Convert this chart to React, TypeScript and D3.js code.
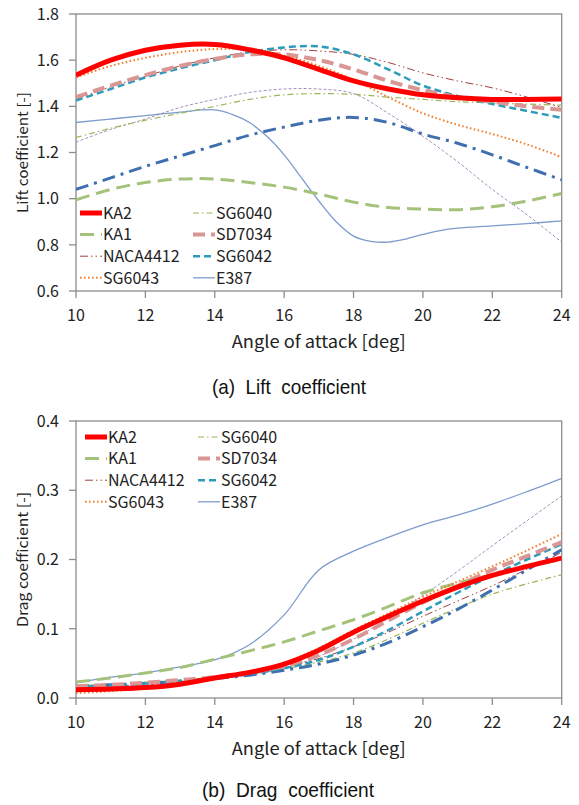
import React from "react";
import * as d3 from "d3";

// ---------- DATA ----------
const ANGLES = [10, 11, 12, 13, 14, 15, 16, 17, 18, 19, 20, 21, 22, 23, 24];
const E387_LIFT_ANGLES = [10, 11, 12, 13, 14, 14.5, 15, 15.5, 16, 16.5, 17, 17.5, 18, 18.5, 19, 19.5, 20, 20.5, 21, 22, 23, 24];

const X_TICKS = [10, 12, 14, 16, 18, 20, 22, 24];
const LIFT_TICKS = [0.6, 0.8, 1.0, 1.2, 1.4, 1.6, 1.8];
const DRAG_TICKS = [0.0, 0.1, 0.2, 0.3, 0.4];

// Lift coefficient
const LIFT_KA2 = [1.535, 1.6, 1.643, 1.665, 1.668, 1.645, 1.61, 1.56, 1.51, 1.475, 1.45, 1.437, 1.43, 1.43, 1.432];
const LIFT_KA1 = [0.995, 1.04, 1.07, 1.085, 1.085, 1.07, 1.05, 1.02, 0.985, 0.962, 0.955, 0.952, 0.965, 0.99, 1.022];
const LIFT_NACA4412 = [1.43, 1.485, 1.53, 1.575, 1.61, 1.635, 1.645, 1.64, 1.625, 1.59, 1.545, 1.51, 1.48, 1.44, 1.395];
const LIFT_SG6043 = [1.525, 1.575, 1.61, 1.635, 1.648, 1.645, 1.62, 1.575, 1.515, 1.44, 1.37, 1.32, 1.28, 1.235, 1.18];
const LIFT_SG6040 = [1.265, 1.305, 1.34, 1.37, 1.4, 1.43, 1.45, 1.455, 1.452, 1.44, 1.43, 1.42, 1.415, 1.41, 1.405];
const LIFT_SD7034 = [1.44, 1.49, 1.535, 1.575, 1.605, 1.625, 1.625, 1.6, 1.56, 1.51, 1.47, 1.44, 1.42, 1.4, 1.385];
const LIFT_SG6042 = [1.425, 1.475, 1.525, 1.565, 1.6, 1.635, 1.655, 1.66, 1.625, 1.56, 1.49, 1.445, 1.41, 1.38, 1.35];
const LIFT_E387 = [1.33, 1.345, 1.36, 1.375, 1.385, 1.365, 1.33, 1.27, 1.19, 1.09, 0.99, 0.9, 0.838, 0.815, 0.812, 0.825, 0.845, 0.862, 0.872, 0.882, 0.892, 0.904];
const LIFT_EXTRA_BLUE = [1.04, 1.09, 1.14, 1.185, 1.23, 1.275, 1.31, 1.34, 1.352, 1.33, 1.28, 1.24, 1.19, 1.135, 1.082];
const LIFT_EXTRA_PURPLE = [1.245, 1.3, 1.345, 1.395, 1.43, 1.46, 1.475, 1.475, 1.455, 1.37, 1.27, 1.16, 1.04, 0.93, 0.812];

// Drag coefficient
const DRAG_KA2 = [0.012, 0.013, 0.015, 0.02, 0.029, 0.037, 0.049, 0.069, 0.095, 0.118, 0.14, 0.16, 0.177, 0.19, 0.202];
const DRAG_KA1 = [0.023, 0.029, 0.036, 0.044, 0.056, 0.068, 0.081, 0.097, 0.113, 0.132, 0.152, 0.166, 0.178, 0.19, 0.2];
const DRAG_NACA4412 = [0.015, 0.017, 0.02, 0.024, 0.028, 0.035, 0.044, 0.057, 0.074, 0.095, 0.118, 0.14, 0.162, 0.186, 0.21];
const DRAG_SG6043 = [0.007, 0.01, 0.014, 0.02, 0.028, 0.037, 0.051, 0.072, 0.098, 0.122, 0.146, 0.168, 0.19, 0.213, 0.237];
const DRAG_SG6040 = [0.018, 0.02, 0.023, 0.026, 0.03, 0.035, 0.042, 0.052, 0.065, 0.085, 0.108, 0.13, 0.15, 0.165, 0.178];
const DRAG_SD7034 = [0.017, 0.019, 0.022, 0.026, 0.03, 0.037, 0.046, 0.062, 0.085, 0.112, 0.138, 0.162, 0.185, 0.205, 0.225];
const DRAG_SG6042 = [0.016, 0.018, 0.021, 0.025, 0.029, 0.035, 0.043, 0.055, 0.074, 0.098, 0.125, 0.152, 0.177, 0.2, 0.222];
const DRAG_E387 = [0.022, 0.03, 0.036, 0.045, 0.055, 0.077, 0.12, 0.185, 0.212, 0.232, 0.25, 0.264, 0.28, 0.298, 0.317];
const DRAG_EXTRA_BLUE = [0.017, 0.019, 0.021, 0.024, 0.028, 0.033, 0.04, 0.049, 0.062, 0.08, 0.103, 0.128, 0.156, 0.185, 0.214];
const DRAG_EXTRA_PURPLE = [0.015, 0.017, 0.019, 0.023, 0.027, 0.033, 0.043, 0.06, 0.085, 0.115, 0.148, 0.183, 0.22, 0.256, 0.292];

// ---------- STYLES ----------
type Style = { color: string; width: number; dash: string | null };
const STYLES: Record<string, Style> = {
  KA2: { color: "#ff0000", width: 5, dash: null },
  KA1: { color: "#a4c27a", width: 3, dash: "14,7" },
  NACA4412: { color: "#a0413e", width: 1, dash: "8,3,1.5,3,1.5,3" },
  SG6043: { color: "#f08030", width: 2, dash: "1.6,2.4" },
  SG6040: { color: "#9bb55a", width: 1.2, dash: "6,3,1.5,3" },
  SD7034: { color: "#d99694", width: 4, dash: "12,6" },
  SG6042: { color: "#2e9bbb", width: 2.5, dash: "7,4" },
  E387: { color: "#7d9bcc", width: 1.3, dash: null },
  EXTRA_BLUE: { color: "#3f6faf", width: 3, dash: "13,6,3,6" },
  EXTRA_PURPLE: { color: "#8a74a8", width: 0.8, dash: "3,2" },
};

const LEGEND_COL1 = ["KA2", "KA1", "NACA4412", "SG6043"];
const LEGEND_COL2 = ["SG6040", "SD7034", "SG6042", "E387"];

type Series = { key: string; xs: number[]; ys: number[] };

const LIFT_SERIES: Series[] = [
  { key: "E387", xs: E387_LIFT_ANGLES, ys: LIFT_E387 },
  { key: "EXTRA_PURPLE", xs: ANGLES, ys: LIFT_EXTRA_PURPLE },
  { key: "SG6040", xs: ANGLES, ys: LIFT_SG6040 },
  { key: "NACA4412", xs: ANGLES, ys: LIFT_NACA4412 },
  { key: "EXTRA_BLUE", xs: ANGLES, ys: LIFT_EXTRA_BLUE },
  { key: "KA1", xs: ANGLES, ys: LIFT_KA1 },
  { key: "SG6042", xs: ANGLES, ys: LIFT_SG6042 },
  { key: "SD7034", xs: ANGLES, ys: LIFT_SD7034 },
  { key: "SG6043", xs: ANGLES, ys: LIFT_SG6043 },
  { key: "KA2", xs: ANGLES, ys: LIFT_KA2 },
];

const DRAG_SERIES: Series[] = [
  { key: "E387", xs: ANGLES, ys: DRAG_E387 },
  { key: "EXTRA_PURPLE", xs: ANGLES, ys: DRAG_EXTRA_PURPLE },
  { key: "SG6040", xs: ANGLES, ys: DRAG_SG6040 },
  { key: "NACA4412", xs: ANGLES, ys: DRAG_NACA4412 },
  { key: "KA1", xs: ANGLES, ys: DRAG_KA1 },
  { key: "EXTRA_BLUE", xs: ANGLES, ys: DRAG_EXTRA_BLUE },
  { key: "SG6042", xs: ANGLES, ys: DRAG_SG6042 },
  { key: "SD7034", xs: ANGLES, ys: DRAG_SD7034 },
  { key: "SG6043", xs: ANGLES, ys: DRAG_SG6043 },
  { key: "KA2", xs: ANGLES, ys: DRAG_KA2 },
];

const FONT = "'Noto Sans CJK KR', 'Noto Sans', sans-serif";
const AXIS_COLOR = "#8c8c8c";

type PanelProps = {
  top: number;
  bottom: number;
  yDomain: [number, number];
  yTicks: number[];
  series: Series[];
  yLabel: string;
  yLabelLen: number;
  yLabelCenter: number;
  legendTop: number;
  legendX1: number;
  legendX2: number;
  caption: string;
  captionX: number;
  captionLen: number;
  captionY: number;
};

function Panel(p: PanelProps) {
  const left = 76;
  const right = 561.7;
  const x = d3.scaleLinear().domain([10, 24]).range([left, right]);
  const y = d3.scaleLinear().domain(p.yDomain).range([p.bottom, p.top]);
  const line = d3
    .line<[number, number]>()
    .x((d) => x(d[0]))
    .y((d) => y(d[1]))
    .curve(d3.curveCatmullRom.alpha(0.5));
  const rowH = 21.6;
  const legendItems = [
    ...LEGEND_COL1.map((k, i) => ({ k, x0: p.legendX1, row: i })),
    ...LEGEND_COL2.map((k, i) => ({ k, x0: p.legendX2, row: i })),
  ];
  return (
    <g>
      <defs>
        <clipPath id={`clip${p.top}`}>
          <rect x={left} y={p.top} width={right - left} height={p.bottom - p.top} />
        </clipPath>
      </defs>
      {/* frame */}
      <rect x={left} y={p.top} width={right - left} height={p.bottom - p.top} fill="none" stroke={AXIS_COLOR} strokeWidth={1.3} />
      {/* y ticks */}
      {p.yTicks.map((t) => (
        <g key={"y" + t}>
          <line x1={left - 7} x2={left} y1={y(t)} y2={y(t)} stroke={AXIS_COLOR} strokeWidth={1.3} />
          <text x={59} y={y(t)} dy="0.36em" textAnchor="end" fontFamily={FONT} fontSize={16} fill="#222">
            {t.toFixed(1)}
          </text>
        </g>
      ))}
      {/* x ticks */}
      {X_TICKS.map((t) => (
        <g key={"x" + t}>
          <line x1={x(t)} x2={x(t)} y1={p.bottom} y2={p.bottom + 7} stroke={AXIS_COLOR} strokeWidth={1.3} />
          <text x={x(t)} y={p.bottom + 24} dy="0.36em" textAnchor="middle" fontFamily={FONT} fontSize={16} fill="#222">
            {t}
          </text>
        </g>
      ))}
      {/* lines */}
      <g clipPath={`url(#clip${p.top})`}>
        {p.series.map((s) => {
          const st = STYLES[s.key];
          const pts = s.xs.map((a, i) => [a, s.ys[i]] as [number, number]);
          return (
            <path
              key={s.key}
              d={line(pts) || ""}
              fill="none"
              stroke={st.color}
              strokeWidth={st.width}
              strokeDasharray={st.dash || undefined}
              strokeLinecap={st.dash && st.width < 2.2 && st.key !== "x" ? "butt" : "butt"}
            />
          );
        })}
      </g>
      {/* legend */}
      {legendItems.map(({ k, x0, row }) => {
        const st = STYLES[k];
        const cy = p.legendTop + row * rowH;
        return (
          <g key={"lg" + k}>
            <line x1={x0} x2={x0 + 22} y1={cy} y2={cy} stroke={st.color} strokeWidth={st.width} strokeDasharray={st.dash || undefined} />
            <text x={x0 + 23} y={cy} dy="0.36em" fontFamily={FONT} fontSize={16} fill="#222">
              {k}
            </text>
          </g>
        );
      })}
      {/* axis titles */}
      <text
        x={231.7}
        y={p.bottom + 51}
        dy="0.36em"
        fontFamily={FONT}
        fontSize={17}
        fill="#222"
        textLength={174}
        lengthAdjust="spacingAndGlyphs"
      >
        Angle of attack [deg]
      </text>
      <text
        transform={`translate(22.5, ${p.yLabelCenter}) rotate(-90)`}
        textAnchor="middle"
        dy="0.36em"
        fontFamily={FONT}
        fontSize={14}
        fill="#222"
        textLength={p.yLabelLen}
        lengthAdjust="spacingAndGlyphs"
      >
        {p.yLabel}
      </text>
      {/* caption */}
      <text
        x={p.captionX}
        y={p.captionY}
        fontFamily="'Liberation Sans', Arial, sans-serif"
        fontSize={21}
        fill="#111"
        textLength={p.captionLen}
        lengthAdjust="spacingAndGlyphs"
        style={{ whiteSpace: "pre" }}
      >
        {p.caption}
      </text>
    </g>
  );
}

export default function App() {
  return (
    <svg
      width={579}
      height={805}
      viewBox="0 0 579 805"
      style={{ position: "absolute", left: 0, top: 0, background: "#fff" }}
    >
      <rect x={0} y={0} width={579} height={805} fill="#fff" />
      <Panel
        top={14}
        bottom={291}
        yDomain={[0.6, 1.8]}
        yTicks={LIFT_TICKS}
        series={LIFT_SERIES}
        yLabel="Lift coefficient [-]"
        yLabelLen={121}
        yLabelCenter={152.5}
        legendTop={213}
        legendX1={80}
        legendX2={193}
        caption="(a)  Lift  coefficient"
        captionX={212}
        captionLen={154}
        captionY={394}
      />
      <Panel
        top={421}
        bottom={698}
        yDomain={[0, 0.4]}
        yTicks={DRAG_TICKS}
        series={DRAG_SERIES}
        yLabel="Drag coefficient [-]"
        yLabelLen={135}
        yLabelCenter={559.5}
        legendTop={437}
        legendX1={85}
        legendX2={198}
        caption="(b)  Drag  coefficient"
        captionX={202}
        captionLen={172}
        captionY={797}
      />
    </svg>
  );
}
